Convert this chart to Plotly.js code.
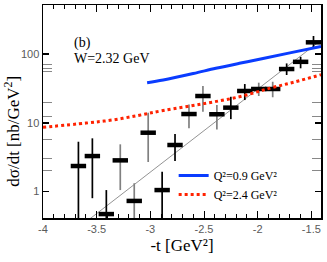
<!DOCTYPE html>
<html>
<head>
<meta charset="utf-8">
<script src="https://cdn.plot.ly/plotly-3.0.1.min.js"></script>
<style>html,body{margin:0;padding:0;background:#fff;}#chart{width:327px;height:262px;}</style>
</head>
<body>
<div id="chart"></div>
<script>
// Data points: -t and dσ/dt with error bar top/bottom
const tData   = [-3.67,-3.54,-3.41,-3.28,-3.15,-3.02,-2.89,-2.77,-2.64,-2.51,-2.38,-2.25,-2.12,-1.99,-1.86,-1.73,-1.60,-1.48];
const sigData = [2.35,3.28,0.47,2.84,0.73,7.17,1.05,4.75,13.4,24.5,13.3,16.6,29,31,31,60.5,77,148];
const errTop  = [5.3,5.94,1.05,4.86,1.32,14,1.94,6.86,18.5,34.3,18.1,23.9,36.6,38.3,39.5,73,91,183];
const errBot  = [0.2,0.80,0.2,1.05,0.2,2.69,0.2,2.78,8.3,14.5,8.0,11.3,21.4,24.5,23.5,49.5,62,125];
const barShade = ['k','k','k','g','g','g','k','k','g','g','g','k','k','g','g','k','k','k'];

// Straight fit line (thin gray)
const fitT = [-3.6,-1.40];
const fitY = [0.362,163];

// Q²=0.9 curve (blue)
const blueT = [-3.03,-2.88,-2.6,-2.39,-2.17,-1.95,-1.7,-1.41];
const blueY = [38.3,41.9,52,62,73.3,86,104,128.5];

// Q²=2.4 curve (red dotted)
const redT = [-4.0,-3.6,-3.35,-3.1,-2.88,-2.5,-2.17,-1.89,-1.65,-1.41];
const redY = [8.6,9.9,11,12.9,15.1,19,23.9,31.7,39.5,50];

const legendNames = ['Q²=0.9 GeV²','Q²=2.4 GeV²'];
const xTicks = [-4,-3.5,-3,-2.5,-2,-1.5];
const xTickText = ['-4','-3.5','-3','-2.5','-2','-1.5'];
const yTicks = [1,10,100];
const yTickText = ['1','10','100'];
const yMinor = [2,3,5.8,12.5,20,55,62,70];

function pick(arr, shade){ return arr.filter((v,i)=>barShade[i]===shade); }
function barTrace(shade, color){
  const t = pick(tData,shade), y = pick(sigData,shade), hi = pick(errTop,shade), lo = pick(errBot,shade);
  return {
    x:t, y:y, type:'scatter', mode:'markers', showlegend:false,
    marker:{size:1, color:'rgba(0,0,0,0)'},
    error_y:{type:'data', symmetric:false, array:hi.map((h,i)=>h-y[i]), arrayminus:lo.map((l,i)=>y[i]-l),
      color:color, thickness:1.7, width:0}
  };
}

const traces = [
  {x:fitT, y:fitY, type:'scatter', mode:'lines', line:{color:'#777', width:0.8}, showlegend:false},
  barTrace('k','#000'),
  barTrace('g','#808080'),
  {x:tData, y:sigData, type:'scatter', mode:'markers', showlegend:false,
   marker:{symbol:'line-ew', size:11, color:'#000', line:{color:'#000', width:4.5}}},
  {x:blueT, y:blueY, type:'scatter', mode:'lines', name:legendNames[0], line:{color:'#0a3cff', width:3, shape:'spline'}},
  {x:redT, y:redY, type:'scatter', mode:'lines', name:legendNames[1], line:{color:'#ff2200', width:3, dash:'dot', shape:'spline'}}
];

const tickFont = {family:'Liberation Sans, Arial, sans-serif', size:11, color:'#5a5a5a'};
const serif = 'Liberation Serif, Times New Roman, serif';

const layout = {
  width:327, height:262,
  margin:{l:43, r:6, t:5, b:44},
  paper_bgcolor:'#fff', plot_bgcolor:'#fff',
  showlegend:true,
  legend:{x:0.47, y:0.268, xanchor:'left', yanchor:'top', bgcolor:'rgba(0,0,0,0)',
    font:{family:serif, size:12, color:'#000'}, itemwidth:30, tracegroupgap:0},
  xaxis:{range:[-4,-1.41], tickmode:'array', tickvals:xTicks, ticktext:xTickText,
    ticks:'inside', ticklen:7, tickwidth:1, tickcolor:'#000',
    minor:{tickmode:'linear', tick0:-4, dtick:0.1, ticks:'inside', ticklen:4, tickcolor:'#000', tickwidth:1},
    showline:true, linecolor:'#000', linewidth:1.5, mirror:'ticks', showgrid:false, zeroline:false,
    tickfont:tickFont,
    title:{text:'-t [GeV²]', font:{family:serif, size:17, color:'#000'}, standoff:5}},
  yaxis:{type:'log', range:[-0.385,2.713], tickmode:'array', tickvals:yTicks, ticktext:yTickText,
    ticks:'inside', ticklen:6, tickwidth:1.5, tickcolor:'#000',
    minor:{tickmode:'array', tickvals:yMinor, ticks:'inside', ticklen:9, tickcolor:'#888', tickwidth:1},
    showline:true, linecolor:'#000', linewidth:1.5, mirror:'ticks', showgrid:false, zeroline:false,
    tickfont:tickFont},
  annotations:[
    {xref:'paper', yref:'paper', x:-0.1115, y:0.405, xanchor:'center', yanchor:'middle', textangle:-90,
     showarrow:false, text:'dσ/dt [nb/GeV<sup>2</sup>]', font:{family:serif, size:17, color:'#000'}},
    {xref:'paper', yref:'paper', x:0.106, y:0.822, xanchor:'left', yanchor:'middle', showarrow:false,
     text:'(b)', font:{family:serif, size:14, color:'#000'}},
    {xref:'paper', yref:'paper', x:0.106, y:0.748, xanchor:'left', yanchor:'middle', showarrow:false,
     text:'W=2.32 GeV', font:{family:serif, size:14, color:'#000'}}
  ]
};

Plotly.newPlot('chart', traces, layout, {staticPlot:true, displayModeBar:false});
</script>
</body>
</html>
